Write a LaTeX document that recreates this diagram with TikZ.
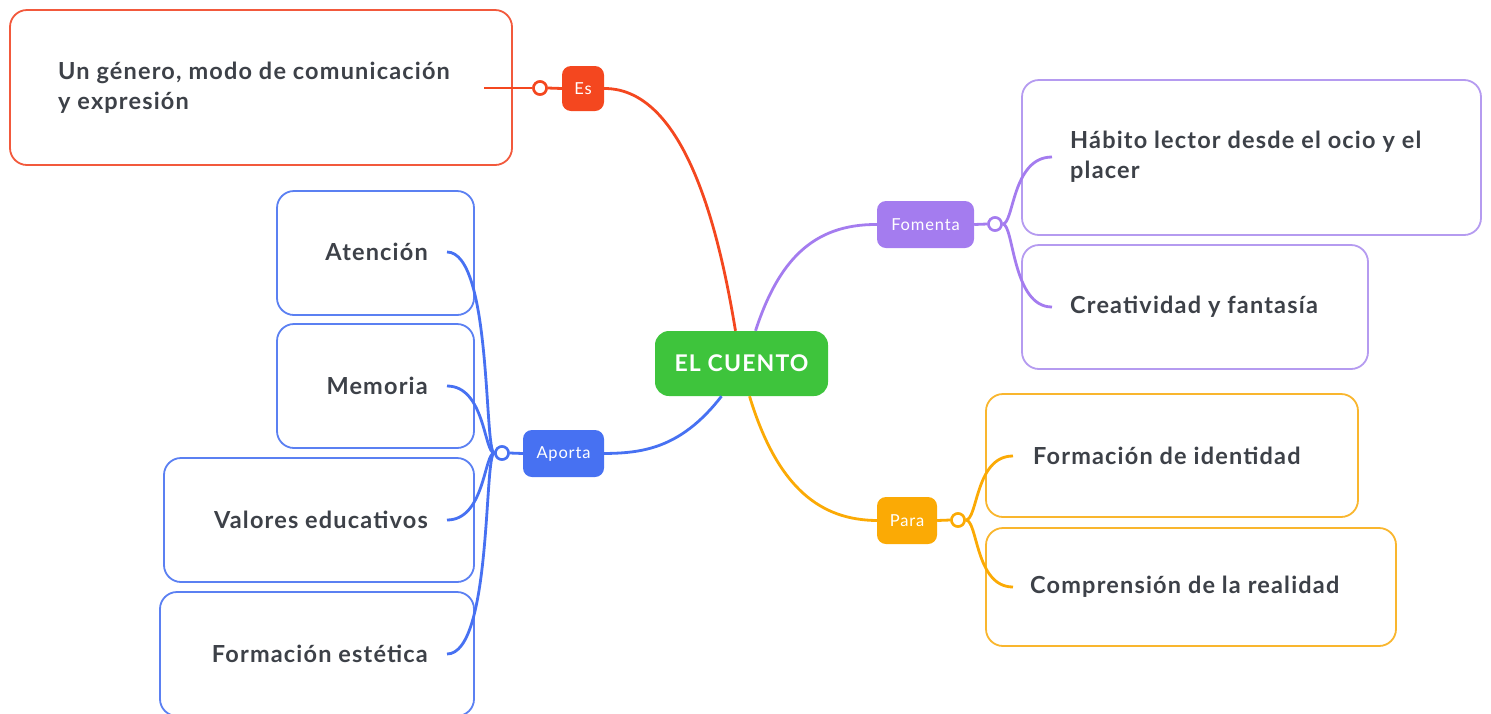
\documentclass[tikz,border=0pt]{standalone}
\usepackage{fontspec}
\setmainfont[LetterSpace=5]{Lato}
\definecolor{cred}{HTML}{F4471F}
\definecolor{bred}{HTML}{F2593C}
\definecolor{cpur}{HTML}{A47CEF}
\definecolor{bpur}{HTML}{B59BF0}
\definecolor{cgrn}{HTML}{3EC43C}
\definecolor{cblu}{HTML}{4771F2}
\definecolor{bblu}{HTML}{5B80F2}
\definecolor{corg}{HTML}{FBAA05}
\definecolor{borg}{HTML}{F9B62E}
\definecolor{ctxt}{HTML}{3D4148}
\begin{document}
\begin{tikzpicture}[x=1pt,y=-1pt,
  box/.style={draw=#1, line width=1.8pt, rounded corners=17pt, fill=white, inner sep=0pt},
  topic/.style={fill=#1, rounded corners=9pt, text=white, inner sep=0pt, font=\fontsize{16.5}{19}\selectfont},
  lab/.style={text=ctxt, inner sep=0pt, font=\bfseries\fontsize{23.5}{30}\selectfont},
  conn/.style={draw=#1, line width=2.8pt},
  knot/.style={circle, draw=#1, fill=white, line width=2.5pt, minimum size=13pt, inner sep=0pt}]
\useasboundingbox (0,0) rectangle (1491,713);
% boxes
\node[box=bred, minimum width=502pt, minimum height=155pt] (b1) at (261,87.5) {};
\node[box=bpur, minimum width=459pt, minimum height=155pt] (p1) at (1251.5,157.5) {};
\node[box=bpur, minimum width=346pt, minimum height=124pt] (p2) at (1195,307) {};
\node[box=borg, minimum width=372pt, minimum height=123pt] (o1) at (1172,455.5) {};
\node[box=borg, minimum width=410pt, minimum height=118pt] (o2) at (1191,587) {};
\node[box=bblu, minimum width=197pt, minimum height=124pt] (a1) at (375.5,253) {};
\node[box=bblu, minimum width=197pt, minimum height=124pt] (a2) at (375.5,386) {};
\node[box=bblu, minimum width=310pt, minimum height=124pt] (a3) at (319,520) {};
\node[box=bblu, minimum width=314pt, minimum height=124pt] (a4) at (317,654) {};
% labels
\node[lab, anchor=west, align=left] (tb1) at (58,88) {Un género, modo de comunicación\\y expresión};
\node[lab, anchor=west, align=left] (tp1) at (1070,157) {Hábito lector desde el ocio y el\\placer};
\node[lab, anchor=west] (tp2) at (1070,307) {Creatividad y fantasía};
\node[lab, anchor=west] (to1) at (1033,456) {Formación de identidad};
\node[lab, anchor=west] (to2) at (1030,587) {Comprensión de la realidad};
\node[lab, anchor=east] (ta1) at (428,252) {Atención};
\node[lab, anchor=east] (ta2) at (428,386) {Memoria};
\node[lab, anchor=east] (ta3) at (428,520) {Valores educativos};
\node[lab, anchor=east] (ta4) at (428,654) {Formación estética};
% topics
\node[fill=cgrn, rounded corners=14pt, text=white, inner sep=0pt, font=\bfseries\fontsize{23}{26}\selectfont, minimum width=173pt, minimum height=65pt] (root) at (741.5,363.5) {EL CUENTO};
\node[topic=cred, minimum width=42pt, minimum height=45pt] (es) at (583,88.5) {Es};
\node[topic=cpur, minimum width=97pt, minimum height=47pt] (fom) at (925.5,224.5) {Fomenta};
\node[topic=corg, minimum width=60pt, minimum height=47pt] (para) at (907,520.5) {Para};
\node[topic=cblu, minimum width=81pt, minimum height=47pt] (apo) at (563.5,453.5) {Aporta};
% knots
\node[knot=cred] (kr) at (540,88) {};
\node[knot=cpur] (kp) at (995,224) {};
\node[knot=corg] (ko) at (958,520) {};
\node[knot=cblu] (kb) at (502,453) {};
% ends
\coordinate (er) at (484,88);
\coordinate (ep1) at (1052,157);
\coordinate (ep2) at (1052,307);
\coordinate (eo1) at (1013,456);
\coordinate (eo2) at (1013,587);
\coordinate (ea1) at (447,252);
\coordinate (ea2) at (447,386);
\coordinate (ea3) at (447,520);
\coordinate (ea4) at (447,654);
% main connectors
\draw[conn=cred] (es.east) .. controls (690,88) and (722,250) .. ([xshift=-6pt]root.north);
\draw[conn=cpur] ([xshift=14pt]root.north) .. controls (778,262) and (812,224) .. (fom.west);
\draw[conn=corg] ([xshift=8pt]root.south) .. controls (778,490) and (822,520) .. (para.west);
\draw[conn=cblu] ([xshift=-20pt]root.south) .. controls (680,450) and (640,453) .. (apo.east);
% short links
\draw[conn=cred] (es.west) -- (kr.east);
\draw[conn=cpur] (fom.east) -- (kp.west);
\draw[conn=corg] (para.east) -- (ko.west);
\draw[conn=cblu] (apo.west) -- (kb.east);
% child connectors
\draw[conn=cred] (kr.west) -- (er);
\draw[conn=cpur] (kp.east) .. controls (1014,224) and (1012,157) .. (ep1);
\draw[conn=cpur] (kp.east) .. controls (1014,224) and (1012,307) .. (ep2);
\draw[conn=corg] (ko.east) .. controls (978,520) and (975,456) .. (eo1);
\draw[conn=corg] (ko.east) .. controls (978,520) and (975,587) .. (eo2);
\draw[conn=cblu] (kb.west) .. controls (484,453) and (492,252) .. (ea1);
\draw[conn=cblu] (kb.west) .. controls (484,453) and (485,386) .. (ea2);
\draw[conn=cblu] (kb.west) .. controls (484,453) and (485,520) .. (ea3);
\draw[conn=cblu] (kb.west) .. controls (484,453) and (492,654) .. (ea4);
\node[knot=cred] at (kr) {};
\node[knot=cpur] at (kp) {};
\node[knot=corg] at (ko) {};
\node[knot=cblu] at (kb) {};
\end{tikzpicture}
\end{document}
